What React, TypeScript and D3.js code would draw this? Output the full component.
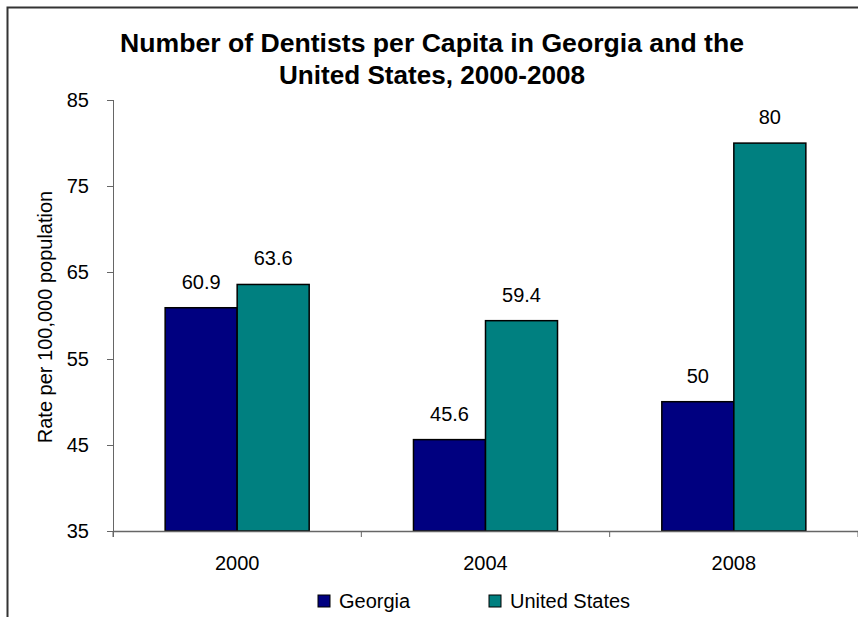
import React from "react";
import * as d3 from "d3";

const categories = ["2000", "2004", "2008"];
const seriesNames = ["Georgia", "United States"];
const georgia = [60.9, 45.6, 50];
const unitedStates = [63.6, 59.4, 80];
const yTicks = [35, 45, 55, 65, 75, 85];
const colors = ["#000080", "#008080"];

const W = 858;
const H = 617;
const font = "'Liberation Sans', Arial, sans-serif";

export default function App() {
  const x = d3.scaleBand<string>().domain(categories).range([113, 858]).paddingInner(0.42).paddingOuter(0.21);
  const step = x.step();
  const inner = d3.scaleBand<string>().domain(seriesNames).range([0, x.bandwidth()]);
  const y = d3.scaleLinear().domain([35, 85]).range([531, 100]);
  const values = [georgia, unitedStates];
  const boundaries = d3.range(categories.length + 1).map((i) => 113 + i * step);

  return (
    <svg width={W} height={H} style={{ position: "absolute", left: 0, top: 0, background: "#fff" }}>
      <rect x={0} y={0} width={W} height={H} fill="#fff" />
      <path d={`M7.5,${H} V7.5 H${W}`} fill="none" stroke="#333" strokeWidth={2} />
      <text x={432} y={52} textAnchor="middle" fontFamily={font} fontWeight="bold" fontSize={25} fill="#000"
        textLength={624} lengthAdjust="spacingAndGlyphs">
        Number of Dentists per Capita in Georgia and the
      </text>
      <text x={432} y={84} textAnchor="middle" fontFamily={font} fontWeight="bold" fontSize={25} fill="#000"
        textLength={306} lengthAdjust="spacingAndGlyphs">
        United States, 2000-2008
      </text>
      {/* y axis */}
      <line x1={113.5} x2={113.5} y1={y(85)} y2={y(35) + 6} stroke="#666" strokeWidth={1} />
      {yTicks.map((t) => (
        <g key={t}>
          <line x1={107} x2={113.5} y1={Math.round(y(t)) + 0.5} y2={Math.round(y(t)) + 0.5} stroke="#666" />
          <text x={89} y={y(t) + 7} textAnchor="end" fontFamily={font} fontSize={20} fill="#000">
            {t}
          </text>
        </g>
      ))}
      <text
        transform={`translate(52,${317}) rotate(-90)`}
        textAnchor="middle"
        fontFamily={font}
        fontSize={20}
        fill="#000"
      >
        Rate per 100,000 population
      </text>
      {/* bars */}
      {categories.map((c, i) => (
        <g key={c}>
          {seriesNames.map((s, j) => {
            const v = values[j][i];
            const bx = (x(c) as number) + (inner(s) as number);
            return (
              <g key={s}>
                <rect
                  x={bx}
                  y={y(v)}
                  width={inner.bandwidth()}
                  height={y(35) - y(v)}
                  fill={colors[j]}
                  stroke="#000"
                  strokeWidth={1.5}
                />
                <text
                  x={bx + inner.bandwidth() / 2}
                  y={y(v) - 19}
                  textAnchor="middle"
                  fontFamily={font}
                  fontSize={20}
                  fill="#000"
                >
                  {v}
                </text>
              </g>
            );
          })}
          <text x={(x(c) as number) + x.bandwidth() / 2} y={570} textAnchor="middle" fontFamily={font} fontSize={20} fill="#000">
            {c}
          </text>
        </g>
      ))}
      {/* x axis */}
      <line x1={113} x2={W} y1={531.5} y2={531.5} stroke="#666" strokeWidth={1.5} />
      {boundaries.map((b, i) => (
        <line key={i} x1={b} x2={b} y1={531.5} y2={537} stroke="#666" />
      ))}
      {/* legend */}
      {seriesNames.map((s, j) => {
        const lx = [318, 489][j];
        return (
          <g key={s}>
            <rect x={lx} y={595} width={12} height={12} fill={colors[j]} stroke="#000" strokeWidth={1} />
            <text x={lx + 21} y={608} fontFamily={font} fontSize={20} fill="#000">
              {s}
            </text>
          </g>
        );
      })}
    </svg>
  );
}
